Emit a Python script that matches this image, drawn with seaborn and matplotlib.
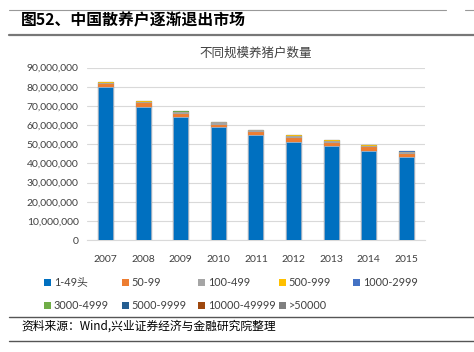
import numpy as np
import pandas as pd
import seaborn as sns
import matplotlib.pyplot as plt
from matplotlib.lines import Line2D
from matplotlib.patches import Patch
from matplotlib.ticker import FuncFormatter

years = ['2007', '2008', '2009', '2010', '2011', '2012', '2013', '2014', '2015']
scales = ['1-49头', '50-99', '100-499', '500-999', '1000-2999',
          '3000-4999', '5000-9999', '10000-49999', '>50000']

# households (millions)
s_1_49 = [80.0, 69.6, 64.1, 58.8, 54.6, 51.4, 49.0, 46.5, 43.5]
s_50_99 = [1.4, 1.9, 1.8, 1.5, 1.8, 2.1, 1.7, 1.8, 1.6]
s_100_499 = [0.7, 0.8, 0.9, 1.1, 0.8, 0.9, 1.0, 0.9, 0.9]
s_500_999 = [0.2, 0.2, 0.2, 0.2, 0.3, 0.2, 0.3, 0.2, 0.2]
s_1000_2999 = [0.06, 0.07, 0.08, 0.09, 0.1, 0.1, 0.1, 0.1, 0.1]
s_3000_4999 = [0.02, 0.02, 0.02, 0.03, 0.03, 0.03, 0.03, 0.03, 0.03]
s_5000_9999 = [0.01, 0.01, 0.01, 0.02, 0.02, 0.02, 0.02, 0.02, 0.02]
s_10000_49999 = [0.01, 0.01, 0.01, 0.01, 0.01, 0.01, 0.01, 0.01, 0.01]
s_50000 = [0.001, 0.001, 0.001, 0.001, 0.001, 0.001, 0.001, 0.001, 0.001]

colors = ['#0070C0', '#ED7D31', '#A5A5A5', '#FFC000', '#4472C4',
          '#70AD47', '#255E91', '#9E480E', '#7F7F7F']

series = [s_1_49, s_50_99, s_100_499, s_500_999, s_1000_2999,
          s_3000_4999, s_5000_9999, s_10000_49999, s_50000]

sns.set_style("white")
plt.rcParams['font.family'] = ['Lato', 'Noto Sans CJK SC', 'DejaVu Sans']

fig = plt.figure(figsize=(4.74, 3.52), dpi=100)
ax = fig.add_axes([0.1835, 0.318, 0.713, 0.49])

cum = np.cumsum(np.array(series) * 1e6, axis=0)
# draw cumulative totals from the top layer down so lower layers cover higher ones
last = len(scales) - 1
for i in range(last, -1, -1):
    df = pd.DataFrame({'year': years, 'value': cum[i]})
    if i == last:
        ec, lw = '#6B6B60', 0.9
    elif i == 0:
        ec, lw = '#9DC3E6', 0.5
    else:
        ec, lw = colors[i], 0.6
    sns.barplot(data=df, x='year', y='value', color=colors[i], width=0.4,
                saturation=1, ax=ax, edgecolor=ec, linewidth=lw, zorder=3)

ax.set_ylim(0, 90e6)
ax.set_yticks(np.arange(0, 90e6 + 1, 10e6))
ax.yaxis.set_major_formatter(FuncFormatter(lambda v, p: f'{int(v):,}'))
ax.grid(axis='y', color='#D9D9D9', linewidth=0.8, zorder=0)
ax.set_axisbelow(True)
for sp in ['top', 'right', 'left']:
    ax.spines[sp].set_visible(False)
ax.spines['bottom'].set_color('#D9D9D9')
ax.spines['bottom'].set_linewidth(0.8)
ax.set_xlabel('')
ax.set_ylabel('')
ax.tick_params(axis='y', length=0, labelsize=7.5, colors='#404040', pad=6)
ax.tick_params(axis='x', length=0, labelsize=7.5, colors='#404040', pad=11)
ax.set_xlim(-0.5, 8.5)

ax.set_title('不同规模养猪户数量', fontsize=9, color='#404040', pad=8)

# legend: fixed-width columns, filled row by row
col_x = [44, 122, 198, 279, 353]
for c in range(5):
    idx = [k for k in (c, c + 5) if k < len(scales)]
    handles = [Patch(facecolor=colors[k], edgecolor='none') for k in idx]
    leg = fig.legend(handles, [scales[k] for k in idx], loc='upper left',
                     bbox_to_anchor=(col_x[c] / 474, 1 - 277 / 352),
                     frameon=False, fontsize=7.8, borderaxespad=0, borderpad=0,
                     handlelength=0.6, handleheight=0.6, handletextpad=0.3,
                     labelspacing=1.15)
    for t in leg.get_texts():
        t.set_color('#404040')

# header / footer
fig.text(0.045, 0.942, '图52、中国散养户逐渐退出市场', fontsize=11.4, fontweight='bold',
         family=['Noto Sans CJK SC'], va='center', ha='left', color='black')
fig.text(0.045, 0.073, '资料来源：Wind,兴业证券经济与金融研究院整理', fontsize=8.5,
         family=['Noto Sans CJK SC', 'DejaVu Sans'], va='center', ha='left', color='black')

fig.add_artist(Line2D([0.02, 0.94], [0.972, 0.972], color='#999999', lw=0.8))
fig.add_artist(Line2D([0.98, 1.0], [0.972, 0.972], color='#999999', lw=0.8))
fig.add_artist(Line2D([0.02, 1.0], [0.9, 0.9], color='#777777', lw=1.6))
fig.add_artist(Line2D([0.02, 1.0], [0.1, 0.1], color='#555555', lw=1.0))
fig.add_artist(Line2D([0.02, 1.0], [0.03, 0.03], color='#555555', lw=1.0))

fig.savefig('out.png', dpi=100)
